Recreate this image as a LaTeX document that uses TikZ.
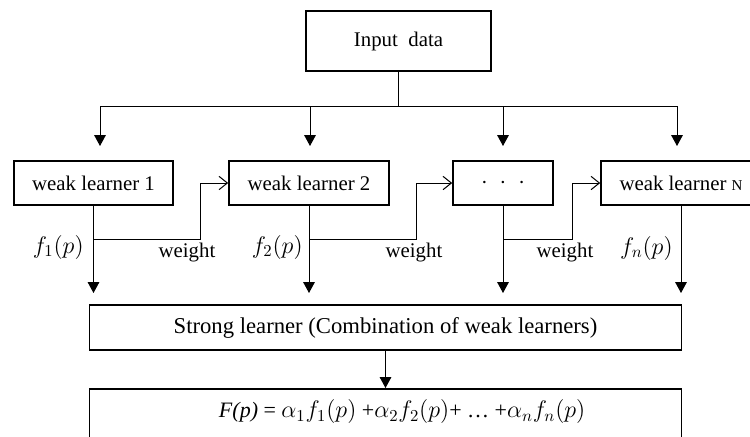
\documentclass[tikz,border=0pt]{standalone}
\usepackage{fontspec}
\setmainfont{Liberation Serif}
\DeclareMathSizes{12.5}{14.4}{10}{7}
\DeclareMathSizes{13.2}{14.4}{10}{7}
\usetikzlibrary{arrows.meta, positioning, calc}

\begin{document}
\begin{tikzpicture}[x=0.6pt, y=-0.6pt,
	font=\fontsize{12.5}{15}\selectfont,
	caja/.style={rectangle, draw, line width=1pt, align=center,
		minimum height=26.4pt, inner sep=2pt},
	fl/.style={-{Triangle[width=7pt, length=6.6pt]}, line width=0.6pt},
	peso/.style={-{Straight Barb[length=5pt, width=8pt]}, line width=0.6pt},
	etiq/.style={inner sep=0pt}]

	\useasboundingbox (0,0) rectangle (750,436);
	\clip (0,0) rectangle (750,436);

	\node[caja, minimum width=111pt, minimum height=36pt] (input) at (398.5,41) {Input\ \ data};
	\node[caja, minimum width=95.4pt] (wl1) at (93.5,183) {weak learner 1};
	\node[caja, minimum width=96pt] (wl2) at (309,183) {weak learner 2};
	\node[caja, minimum width=60pt] (wld) at (503,183) {$\cdot\;\cdot\;\cdot$};
	\node[caja, minimum width=96pt] (wlN) at (681,183) {weak learner {\small N}};
	\node[caja, minimum width=355.2pt, minimum height=27pt,
		font=\fontsize{13.6}{16}\selectfont] (strong) at (385.5,327.5)
		{Strong learner (Combination of weak learners)};
	\node[caja, anchor=north, minimum width=355.2pt, inner ysep=7.4pt,
		text height=10pt, text depth=20pt, font=\fontsize{13.2}{16}\selectfont] (final) at (385.5,388)
		{\hspace*{20pt}{\itshape F(p)} = $\alpha_1 f_1(p)$ +$\alpha_2 f_2(p)$+ \dots\ +$\alpha_n f_n(p)$};

	\coordinate (bus) at (0,106);
	\coordinate (gap) at (0,293);
	\coordinate (c1) at (200,239);
	\coordinate (c2) at (416,239);
	\coordinate (c3) at (572,239);

	\draw[line width=0.6pt] (input) -- (input |- bus);
	\foreach \x [count=\i] in {100,310,503,677} {
		\coordinate (top\i) at (\x,106);
		\coordinate (tip\i) at (\x,146);
		\draw[fl] (top\i) -- (tip\i);
	}
	\draw[line width=0.6pt] (top1) -- (top4);

	\foreach \n in {wl1,wl2,wld,wlN}
		\draw[fl] (\n) -- (\n.south |- gap);

	\draw[peso] (wl1.south |- c1) -- (c1) |- (wl2);
	\draw[peso] (wl2.south |- c2) -- (c2) |- (wld);
	\draw[peso] (wld.south |- c3) -- (c3) |- (wlN);

	\node[etiq] (w1) at (187,253) {weight};
	\node[etiq] (w2) at (414,253) {weight};
	\node[etiq] (w3) at (565,253) {weight};

	\node[etiq, anchor=east] (f1) at (84,247) {$f_1(p)$};
	\node[etiq, anchor=east] (f2) at (303,247) {$f_2(p)$};
	\node[etiq, anchor=east] (fn) at (673,248) {$f_n(p)$};

	\draw[fl] (strong) -- (final);
\end{tikzpicture}
\end{document}
